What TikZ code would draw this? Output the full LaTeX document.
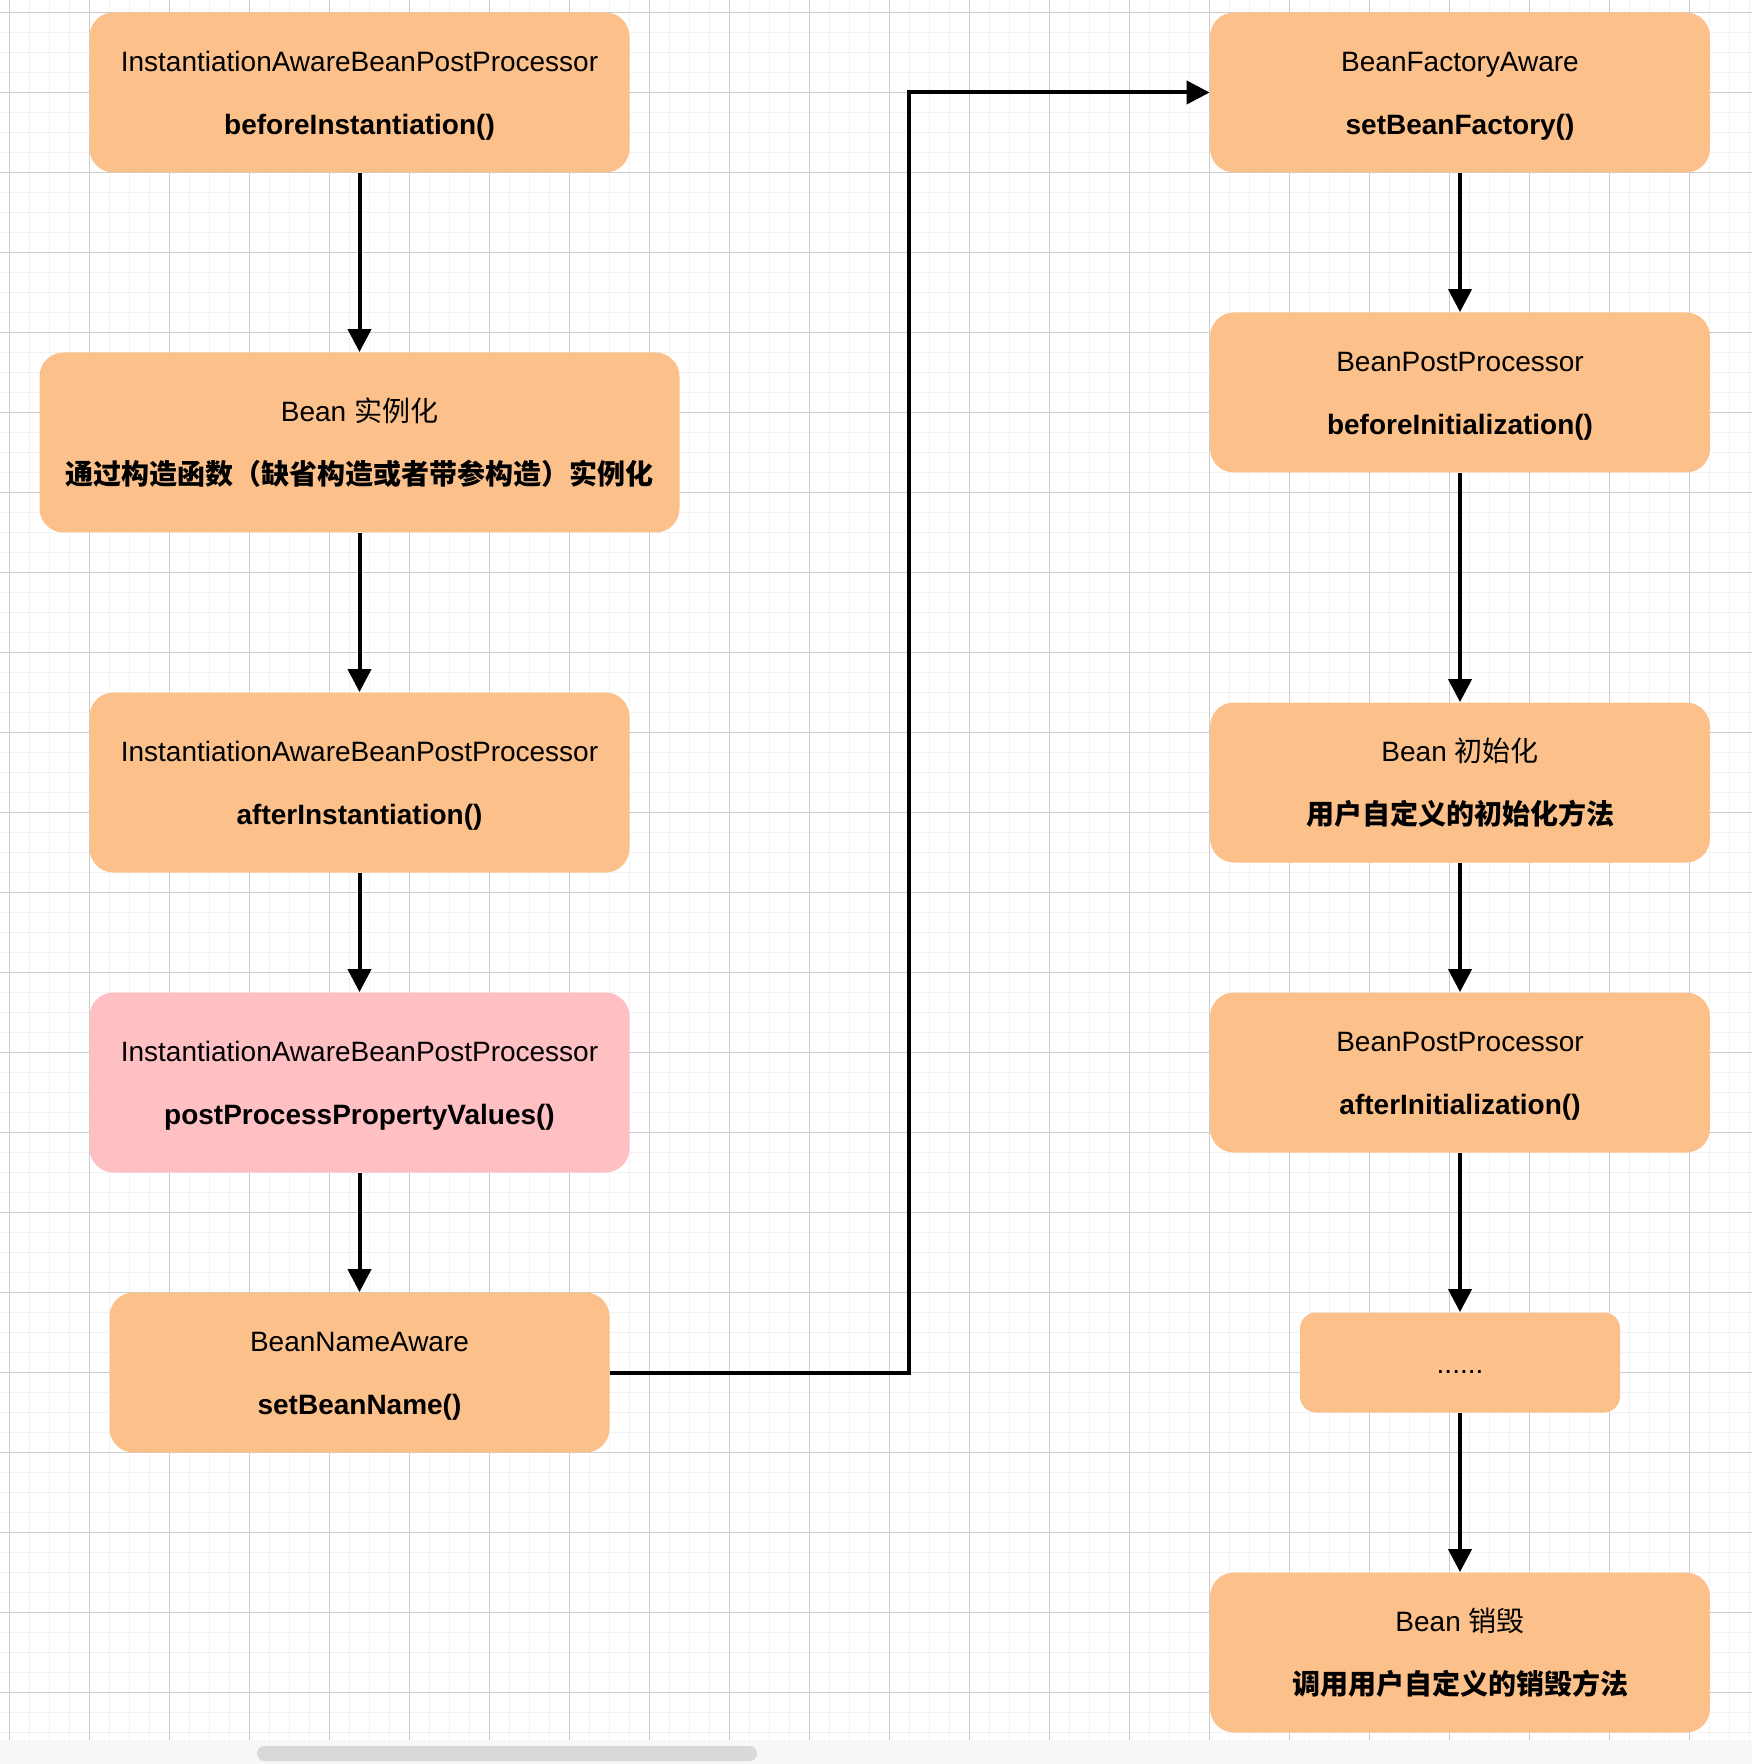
\documentclass[tikz,border=0pt]{standalone}
\usepackage{fontspec}
\setmainfont{Liberation Sans}
\newfontfamily\cjk{Noto Sans CJK SC}
\usepackage{xcolor}
\usepackage{tikz}
\definecolor{beanorange}{RGB}{252,193,138}
\definecolor{beanpink}{RGB}{255,192,196}
\definecolor{gridmajor}{RGB}{204,204,204}
\definecolor{gridminor}{RGB}{242,242,242}
\definecolor{barfill}{RGB}{246,247,248}
\definecolor{scrollfill}{RGB}{216,217,218}
\newcommand*{\canvasgrid}{\foreach\k in{0,...,88}\draw[gridminor,line width=0.75pt](-10.7+20*\k,0)--(-10.7+20*\k,1739.5);\foreach\k in{1,...,87}\draw[gridminor,line width=0.75pt](0,-7.7+20*\k)--(1752,-7.7+20*\k);\foreach\k in{0,...,21}\draw[gridmajor,line width=0.5pt](9.3+80*\k,0)--(9.3+80*\k,1739.5);\foreach\k in{0,...,21}\draw[gridmajor,line width=0.5pt](0,12.3+80*\k)--(1752,12.3+80*\k);}
\newcommand*{\beanlines}[2]{\rule[-20pt]{0pt}{40pt}\smash{\makebox[0pt]{\raisebox{10.5pt}{#1}}\makebox[0pt]{\raisebox{-21.1pt}{#2}}}}
\newcommand*{\beanline}[1]{\rule[-20pt]{0pt}{40pt}\smash{\makebox[0pt]{\raisebox{-5.6pt}{#1}}}}
\usetikzlibrary{arrows.meta}

\tikzset{
  beanbox/.style={rectangle,rounded corners=12pt,fill=beanorange,inner sep=0pt,font=\fontsize{14pt}{17pt}\selectfont},
  hookbox/.style={beanbox,fill=beanpink},
  flow/.style={line width=2pt,-{Triangle[width=11.5pt,length=11.5pt]}}
}

\begin{document}
\begin{tikzpicture}[x=0.5pt,y=-0.5pt]
\useasboundingbox(0,0)rectangle(1752,1764);
\fill[white](0,0)rectangle(1752,1764);
\canvasgrid
\fill[barfill](0,1739.5)rectangle(1752,1764);
\fill[scrollfill,rounded corners=3.75pt](257,1746)rectangle(757,1761);

\node[beanbox,minimum width=270pt,minimum height=80pt](beforeinst)at(359.5,92.5){\beanlines{InstantiationAwareBeanPostProcessor}{\textbf{beforeInstantiation()}}};
\node[beanbox,minimum width=320pt,minimum height=90pt](instantiate)at(359.5,442.5){\beanlines{Bean {\cjk 实例化}}{{\cjk\bfseries 通过构造函数（缺省构造或者带参构造）实例化}}};
\node[beanbox,minimum width=270pt,minimum height=90pt](afterinst)at(359.5,782.5){\beanlines{InstantiationAwareBeanPostProcessor}{\textbf{afterInstantiation()}}};
\node[hookbox,minimum width=270pt,minimum height=90pt](propvalues)at(359.5,1082.5){\beanlines{InstantiationAwareBeanPostProcessor}{\textbf{postProcessPropertyValues()}}};
\node[beanbox,minimum width=250pt,minimum height=80pt](beanname)at(359.5,1372.5){\beanlines{BeanNameAware}{\textbf{setBeanName()}}};

\node[beanbox,minimum width=250pt,minimum height=80pt](beanfactory)at(1460,92.5){\beanlines{BeanFactoryAware}{\textbf{setBeanFactory()}}};
\node[beanbox,minimum width=250pt,minimum height=80pt](beforeinit)at(1460,392.5){\beanlines{BeanPostProcessor}{\textbf{beforeInitialization()}}};
\node[beanbox,minimum width=250pt,minimum height=80pt](initialize)at(1460,782.5){\beanlines{Bean {\cjk 初始化}}{{\cjk\bfseries 用户自定义的初始化方法}}};
\node[beanbox,minimum width=250pt,minimum height=80pt](afterinit)at(1460,1072.5){\beanlines{BeanPostProcessor}{\textbf{afterInitialization()}}};
\node[beanbox,rounded corners=8pt,minimum width=160pt,minimum height=50pt](more)at(1460,1362.5){\beanline{......}};
\node[beanbox,minimum width=250pt,minimum height=80pt](destroy)at(1460,1652.5){\beanlines{Bean {\cjk 销毁}}{{\cjk\bfseries 调用用户自定义的销毁方法}}};

\coordinate(turn)at(909,1372.5);

\draw[flow](beforeinst)--(instantiate);
\draw[flow](instantiate)--(afterinst);
\draw[flow](afterinst)--(propvalues);
\draw[flow](propvalues)--(beanname);
\draw[flow](beanname.east)--(turn)|-(beanfactory.west);

\draw[flow](beanfactory)--(beforeinit);
\draw[flow](beforeinit)--(initialize);
\draw[flow](initialize)--(afterinit);
\draw[flow](afterinit)--(more);
\draw[flow](more)--(destroy);
\end{tikzpicture}
\end{document}
